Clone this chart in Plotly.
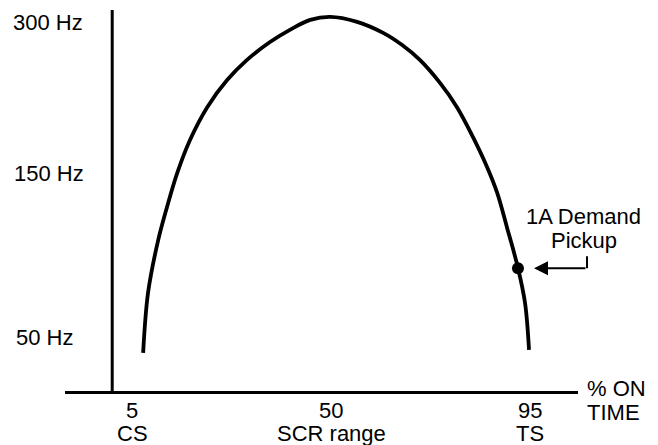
import plotly.graph_objects as go

# ---- data ----
on_time_pct = [7.5, 8.6, 10.9, 12.9, 15.2, 18.1, 22.0, 26.5, 31.0, 36.2, 40.7, 45.3, 49.8,
               55.9, 61.8, 66.1, 70.1, 74.7, 78.5, 82.1, 85.3, 87.6, 89.8, 92.3, 93.9, 94.8]
freq_level = [10.0, 25.7, 39.6, 48.3, 57.2, 65.9, 74.5, 81.6, 86.9, 91.6, 94.8, 97.4, 98.2,
              96.9, 94.0, 90.8, 86.9, 80.8, 74.5, 66.7, 58.8, 52.0, 43.0, 32.3, 23.1, 10.8]

pickup_x = [92.3]
pickup_y = [32.2]
pickup_label = ["1A Demand", "Pickup"]

x_tick_vals = [5, 50, 95]
x_tick_text = ["5", "50", "95"]
x_tick_sub = ["CS", "SCR range", "TS"]

y_tick_vals = [96.85, 57.2, 14.17]
y_tick_text = ["300 Hz", "150 Hz", "50 Hz"]

x_axis_title = ["% ON", "TIME"]

FONT = "Liberation Sans, Arial, Helvetica, sans-serif"
FS = 22
INK = "#000000"

# page body has an 8px margin; the plot is laid out in reference pixels minus 8
OFF = 8
PL, PT, PW, PH = 65 - OFF, 10 - OFF, 513, 381
W, H = 658 - OFF, 445 - OFF


def paper_x(px):
    return (px - OFF - PL) / PW


fig = go.Figure()

fig.add_trace(go.Scatter(
    x=on_time_pct, y=freq_level, mode="lines",
    line=dict(color=INK, width=3.8, shape="spline", smoothing=1.0),
    hoverinfo="skip", showlegend=False))

fig.add_trace(go.Scatter(
    x=pickup_x, y=pickup_y, mode="markers",
    marker=dict(color=INK, size=12),
    hoverinfo="skip", showlegend=False))

# vertical (y) axis line
fig.add_shape(type="line", xref="x", yref="y", x0=0.5, x1=0.5, y0=0, y1=100,
              line=dict(color=INK, width=3))

annotations = []
# x tick labels (two lines)
for v, t, s in zip(x_tick_vals, x_tick_text, x_tick_sub):
    annotations.append(dict(x=v, y=0, xref="x", yref="paper", text=t, showarrow=False,
                            xanchor="center", yanchor="middle", yshift=-19,
                            font=dict(family=FONT, size=FS, color=INK)))
    annotations.append(dict(x=v, y=0, xref="x", yref="paper", text=s, showarrow=False,
                            xanchor="center", yanchor="middle", yshift=-42,
                            font=dict(family=FONT, size=FS, color=INK)))
# y tick labels
for v, t, px in zip(y_tick_vals, y_tick_text, [11, 12, 14]):
    annotations.append(dict(x=paper_x(px), y=v, xref="paper", yref="y", text=t, showarrow=False,
                            xanchor="left", yanchor="middle",
                            font=dict(family=FONT, size=FS, color=INK)))
# x axis title
for i, t in enumerate(x_axis_title):
    annotations.append(dict(x=paper_x(585), y=0, xref="paper", yref="paper", text=t,
                            showarrow=False, xanchor="left", yanchor="middle",
                            yshift=3 - 24 * i,
                            font=dict(family=FONT, size=FS, color=INK)))
# pickup label
annotations.append(dict(x=paper_x(583), y=pickup_y[0], xref="paper", yref="y",
                        text=pickup_label[0], showarrow=False, xanchor="center",
                        yanchor="middle", yshift=52, font=dict(family=FONT, size=FS, color=INK)))
annotations.append(dict(x=paper_x(584), y=pickup_y[0], xref="paper", yref="y",
                        text=pickup_label[1], showarrow=False, xanchor="center",
                        yanchor="middle", yshift=28, font=dict(family=FONT, size=FS, color=INK)))
# pickup arrow (points left at the dot)
annotations.append(dict(x=pickup_x[0], y=pickup_y[0], xref="x", yref="y", text="",
                        showarrow=True, arrowhead=2, arrowsize=1.4, arrowwidth=2,
                        arrowcolor=INK, ax=69, ay=0, standoff=16))

fig.update_layout(annotations=annotations)

# vertical leader of the arrow
fig.add_shape(type="line", xref="paper", yref="y",
              x0=paper_x(587), x1=paper_x(587),
              y0=pickup_y[0], y1=pickup_y[0] + 12 / 3.81,
              line=dict(color=INK, width=2))

fig.update_xaxes(range=[-10.18, 105.88], showline=True, linecolor=INK, linewidth=3,
                 showgrid=False, zeroline=False, showticklabels=False, ticks="", mirror=False)
fig.update_yaxes(range=[0, 100], showline=False, showgrid=False, zeroline=False,
                 showticklabels=False, ticks="")

fig.update_layout(
    width=W, height=H,
    margin=dict(l=PL, r=W - PL - PW, t=PT, b=H - PT - PH),
    paper_bgcolor="white", plot_bgcolor="white",
    font=dict(family=FONT, size=FS, color=INK),
    showlegend=False,
)

fig.write_html("out.html")
